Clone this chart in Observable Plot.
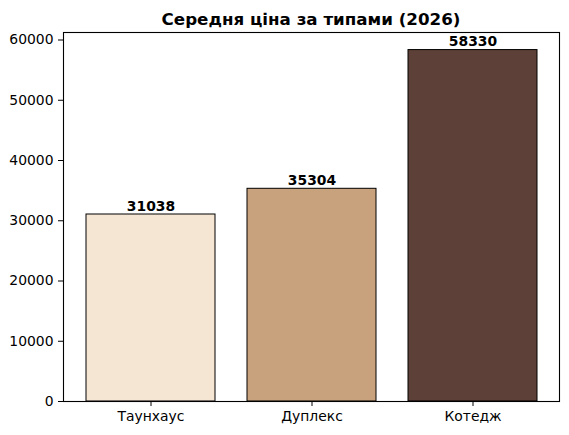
<!DOCTYPE html>
<html>
<head>
<meta charset="utf-8">
<script src="https://cdn.jsdelivr.net/npm/d3@7"></script>
<script src="https://cdn.jsdelivr.net/npm/@observablehq/plot@0.6"></script>
<style>
  body { margin: 0; background: #fff; }
  #title {
    width: 569px; height: 28px; box-sizing: border-box;
    padding: 9px 10px 0 63px; text-align: center;
    font: bold 16.7px "DejaVu Sans"; line-height: normal; white-space: nowrap; color: #000;
  }
</style>
</head>
<body>
<div id="title">Середня ціна за типами (2026)</div>
<div id="chart"></div>
<script>
const categories = ["Таунхаус", "Дуплекс", "Котедж"];
const values = [31038, 35304, 58330];
const colors = ["#F5E6D3", "#C8A27C", "#5D4037"];
const yTicks = [0, 10000, 20000, 30000, 40000, 50000, 60000];

const data = categories.map((c, i) => ({ cat: c, value: values[i], color: colors[i] }));
const yMax = d3.max(values) * 1.05;

const chart = Plot.plot({
  width: 569,
  height: 407,
  marginTop: 4,
  marginBottom: 34,
  marginLeft: 63,
  marginRight: 10,
  style: { fontFamily: "DejaVu Sans", fontSize: "13.9px", color: "#000", background: "#fff" },
  x: { domain: categories, paddingInner: 0.2, paddingOuter: 0.14, label: null, tickSize: 5, tickPadding: 5 },
  y: { domain: [0, yMax], ticks: yTicks, tickFormat: d => String(d), label: null, tickSize: 5, tickPadding: 5 },
  marks: [
    Plot.barY(data, { x: "cat", y: "value", fill: "color", stroke: "#000", strokeWidth: 1 }),
    Plot.text(data, { x: "cat", y: "value", text: d => String(d.value), lineAnchor: "bottom", dy: -4, fontWeight: "bold", fontSize: 13.9, fill: "#000" }),
    Plot.frame({ stroke: "#000", strokeWidth: 1.1 })
  ]
});
document.getElementById("chart").appendChild(chart);
</script>
</body>
</html>
